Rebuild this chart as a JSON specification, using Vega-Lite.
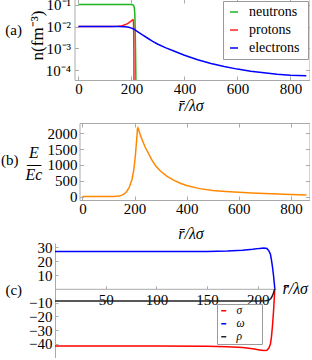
{
  "$schema": "https://vega.github.io/schema/vega-lite/v6.json",
  "padding": {"left": 1, "top": -3, "right": 0, "bottom": 0},
  "background": "white",
  "config": {
    "font": "Liberation Serif",
    "axis": {"labelFont": "Liberation Serif", "labelFontSize": 15, "labelColor": "black", "labelOverlap": false, "titleFont": "Liberation Serif", "titleFontWeight": "normal", "titleColor": "black", "grid": false, "domainColor": "#aaaaaa", "tickColor": "#aaaaaa"},
    "legend": {"labelFont": "Liberation Serif", "titleFont": "Liberation Serif", "labelColor": "black"},
    "title": {"font": "Liberation Serif", "fontSize": 15, "fontWeight": "normal", "color": "black"}
  },
  "bounds": "flush",
  "spacing": 43,
  "resolve": {"scale": {"x": "independent", "y": "independent", "color": "independent"}, "legend": {"color": "independent"}},
  "vconcat": [
    {
      "width": 254.5, "height": 81,
      "view": {"stroke": null},
      "title": {"text": "(a)", "orient": "left", "angle": 0, "anchor": "middle", "frame": "group", "align": "left", "baseline": "middle", "offset": 6.5, "dy": -9.5, "fontSize": 15},
      "data": {"values": [
        {"s": "neutrons", "r": 0, "n": 0.105}, {"s": "neutrons", "r": 150, "n": 0.105}, {"s": "neutrons", "r": 200, "n": 0.104}, {"s": "neutrons", "r": 206, "n": 0.1}, {"s": "neutrons", "r": 209, "n": 0.09}, {"s": "neutrons", "r": 211, "n": 0.07}, {"s": "neutrons", "r": 212.5, "n": 0.04}, {"s": "neutrons", "r": 213.5, "n": 0.015}, {"s": "neutrons", "r": 214.5, "n": 0.004}, {"s": "neutrons", "r": 215.5, "n": 0.0006}, {"s": "neutrons", "r": 216.5, "n": 0.00005}, {"s": "neutrons", "r": 217.5, "n": 0.000001},
        {"s": "protons", "r": 0, "n": 0.0102}, {"s": "protons", "r": 120, "n": 0.0102}, {"s": "protons", "r": 150, "n": 0.0104}, {"s": "protons", "r": 165, "n": 0.011}, {"s": "protons", "r": 178, "n": 0.0125}, {"s": "protons", "r": 188, "n": 0.0145}, {"s": "protons", "r": 196, "n": 0.0172}, {"s": "protons", "r": 202, "n": 0.0198}, {"s": "protons", "r": 205, "n": 0.021}, {"s": "protons", "r": 207, "n": 0.02}, {"s": "protons", "r": 208, "n": 0.012}, {"s": "protons", "r": 208.8, "n": 0.003}, {"s": "protons", "r": 209.3, "n": 0.0004}, {"s": "protons", "r": 209.8, "n": 0.000001},
        {"s": "electrons", "r": 0, "n": 0.0102}, {"s": "electrons", "r": 100, "n": 0.0102}, {"s": "electrons", "r": 150, "n": 0.0101}, {"s": "electrons", "r": 175, "n": 0.0098}, {"s": "electrons", "r": 190, "n": 0.0093}, {"s": "electrons", "r": 200, "n": 0.0086}, {"s": "electrons", "r": 210, "n": 0.0076}, {"s": "electrons", "r": 220, "n": 0.0063}, {"s": "electrons", "r": 240, "n": 0.0043}, {"s": "electrons", "r": 260, "n": 0.003}, {"s": "electrons", "r": 280, "n": 0.0021}, {"s": "electrons", "r": 300, "n": 0.00155}, {"s": "electrons", "r": 330, "n": 0.00105}, {"s": "electrons", "r": 360, "n": 0.00075}, {"s": "electrons", "r": 400, "n": 0.00048}, {"s": "electrons", "r": 450, "n": 0.0003}, {"s": "electrons", "r": 500, "n": 0.0002}, {"s": "electrons", "r": 550, "n": 0.000145}, {"s": "electrons", "r": 600, "n": 0.00011}, {"s": "electrons", "r": 650, "n": 0.000088}, {"s": "electrons", "r": 700, "n": 0.000074}, {"s": "electrons", "r": 750, "n": 0.000064}, {"s": "electrons", "r": 800, "n": 0.000058}, {"s": "electrons", "r": 860, "n": 0.0000548}
      ]},
      "resolve": {"axis": {"x": "independent", "y": "independent"}},
      "layer": [
        {
          "mark": {"type": "line", "clip": true, "strokeWidth": 1.5},
          "encoding": {
            "x": {"field": "r", "type": "quantitative", "scale": {"domain": [-15, 872], "range": [19.5, 254.5], "nice": false, "zero": false}, "axis": {"values": [0, 200, 400, 600, 800], "format": "d", "title": "r̄/λσ", "titleFontSize": 16, "titleFontStyle": "italic", "titleX": 135.5, "titleY": 25, "titleBaseline": "middle", "tickSize": -4, "labelPadding": 5}},
            "y": {"field": "n", "type": "quantitative", "scale": {"type": "log", "domain": [0.0000346, 0.189], "nice": false}, "axis": {"offset": -19.5, "values": [0.1, 0.01, 0.001, 0.0001], "labelExpr": "datum.value > 0.05 ? '10⁻¹' : datum.value > 0.005 ? '10⁻²' : datum.value > 0.0005 ? '10⁻³' : '10⁻⁴'", "title": "n(fm⁻³)", "titleFontSize": 17, "titleX": -37, "titleY": 36, "titleAngle": 270, "titleBaseline": "middle", "titleAlign": "center", "tickSize": -4, "labelPadding": 8}},
            "color": {"field": "s", "type": "nominal", "sort": null, "scale": {"domain": ["neutrons", "protons", "electrons"], "range": ["#1cb51c", "#ff2020", "#0000ff"]}, "legend": {"title": " ", "titleOrient": "right", "titlePadding": 4, "titleFontSize": 14, "orient": "top-right", "offset": 2, "symbolType": "stroke", "symbolSize": 64, "symbolStrokeWidth": 1.5, "labelFontSize": 14, "labelOffset": 8, "padding": 4, "rowPadding": 4, "fillColor": "white", "strokeColor": "#999999"}}
          }
        },
        {
          "mark": {"type": "line", "strokeOpacity": 0},
          "encoding": {
            "x": {"field": "r", "type": "quantitative", "axis": {"orient": "top", "labels": false, "title": null, "values": [0, 200, 400, 600, 800], "tickSize": -4}},
            "y": {"field": "n", "type": "quantitative", "axis": {"orient": "right", "labels": false, "title": null, "values": [0.1, 0.01, 0.001, 0.0001], "tickSize": -4}},
            "detail": {"field": "s"}
          }
        }
      ]
    },
    {
      "width": 254.5, "height": 77,
      "view": {"stroke": null},
      "title": {"text": "(b)", "orient": "left", "angle": 0, "anchor": "middle", "frame": "group", "align": "left", "baseline": "middle", "offset": 6.5, "dy": -1.5, "fontSize": 15},
      "data": {"values": [
        {"r": 0, "E": 0}, {"r": 100, "E": 0.5}, {"r": 120, "E": 3}, {"r": 140, "E": 15}, {"r": 150, "E": 35}, {"r": 160, "E": 80}, {"r": 170, "E": 160}, {"r": 180, "E": 300}, {"r": 190, "E": 540}, {"r": 197, "E": 850}, {"r": 203, "E": 1300}, {"r": 208, "E": 1800}, {"r": 211, "E": 2150}, {"r": 213, "E": 2180}, {"r": 216, "E": 2100}, {"r": 222, "E": 1950}, {"r": 230, "E": 1780}, {"r": 240, "E": 1580}, {"r": 250, "E": 1420}, {"r": 265, "E": 1180}, {"r": 280, "E": 980}, {"r": 300, "E": 800}, {"r": 325, "E": 640}, {"r": 350, "E": 520}, {"r": 375, "E": 420}, {"r": 400, "E": 350}, {"r": 450, "E": 250}, {"r": 500, "E": 190}, {"r": 550, "E": 160}, {"r": 600, "E": 137}, {"r": 650, "E": 115}, {"r": 700, "E": 95}, {"r": 750, "E": 78}, {"r": 800, "E": 63}, {"r": 860, "E": 45}
      ]},
      "resolve": {"axis": {"x": "independent", "y": "independent"}},
      "layer": [
        {
          "mark": {"type": "line", "color": "#ff8800", "strokeWidth": 1.5},
          "encoding": {
            "x": {"field": "r", "type": "quantitative", "scale": {"domain": [-11.5, 871.5], "range": [24.5, 254.5], "nice": false, "zero": false}, "axis": {"values": [0, 200, 400, 600, 800], "format": "d", "title": "r̄/λσ", "titleFontSize": 16, "titleFontStyle": "italic", "titleX": 135.5, "titleY": 33, "titleBaseline": "middle", "tickSize": -4, "labelPadding": 5}},
            "y": {"field": "E", "type": "quantitative", "scale": {"domain": [-111, 2333], "nice": false, "zero": false}, "axis": {"offset": -24.5, "values": [0, 500, 1000, 1500, 2000], "format": "d", "title": ["E", "—", "Ec"], "titleFontSize": 16, "titleFontStyle": "italic", "titleLineHeight": 11, "titleAngle": 0, "titleX": -46, "titleY": 29, "titleBaseline": "middle", "titleAlign": "center", "tickSize": -4, "labelPadding": 6.5}}
          }
        },
        {
          "mark": {"type": "line", "strokeOpacity": 0},
          "encoding": {
            "x": {"field": "r", "type": "quantitative", "axis": {"orient": "top", "labels": false, "title": null, "values": [0, 200, 400, 600, 800], "tickSize": -4}},
            "y": {"field": "E", "type": "quantitative", "axis": {"orient": "right", "labels": false, "title": null, "values": [0, 500, 1000, 1500, 2000], "tickSize": -4}}
          }
        }
      ]
    },
    {
      "width": 221, "height": 114.5,
      "view": {"stroke": null},
      "title": {"text": "(c)", "orient": "left", "angle": 0, "anchor": "middle", "frame": "group", "align": "left", "baseline": "middle", "offset": 6.5, "dy": -10.5, "fontSize": 15},
      "data": {"values": [
        {"s": "σ", "r": 0, "v": -41.5}, {"s": "σ", "r": 100, "v": -41.5}, {"s": "σ", "r": 150, "v": -41.6}, {"s": "σ", "r": 170, "v": -42}, {"s": "σ", "r": 185, "v": -42.6}, {"s": "σ", "r": 195, "v": -43.4}, {"s": "σ", "r": 202, "v": -44.3}, {"s": "σ", "r": 206, "v": -44.8}, {"s": "σ", "r": 209, "v": -44.5}, {"s": "σ", "r": 211, "v": -43}, {"s": "σ", "r": 212.5, "v": -40}, {"s": "σ", "r": 213.5, "v": -35}, {"s": "σ", "r": 214.5, "v": -27}, {"s": "σ", "r": 215.5, "v": -17}, {"s": "σ", "r": 216.3, "v": -7}, {"s": "σ", "r": 216.8, "v": 0},
        {"s": "ω", "r": 0, "v": 27}, {"s": "ω", "r": 100, "v": 27}, {"s": "ω", "r": 150, "v": 27.1}, {"s": "ω", "r": 170, "v": 27.4}, {"s": "ω", "r": 185, "v": 28}, {"s": "ω", "r": 195, "v": 28.6}, {"s": "ω", "r": 202, "v": 29.3}, {"s": "ω", "r": 206, "v": 29.6}, {"s": "ω", "r": 209, "v": 29.2}, {"s": "ω", "r": 211, "v": 27.5}, {"s": "ω", "r": 212.5, "v": 25}, {"s": "ω", "r": 213.5, "v": 21}, {"s": "ω", "r": 214.5, "v": 16}, {"s": "ω", "r": 215.5, "v": 10}, {"s": "ω", "r": 216.3, "v": 4}, {"s": "ω", "r": 216.8, "v": 0},
        {"s": "ρ", "r": 0, "v": -8.8}, {"s": "ρ", "r": 200, "v": -8.8}, {"s": "ρ", "r": 208, "v": -8.7}, {"s": "ρ", "r": 211, "v": -8.2}, {"s": "ρ", "r": 213, "v": -7}, {"s": "ρ", "r": 214.5, "v": -5}, {"s": "ρ", "r": 215.5, "v": -3}, {"s": "ρ", "r": 216.3, "v": -1}, {"s": "ρ", "r": 216.8, "v": 0}
      ]},
      "mark": {"type": "line", "strokeWidth": 1.5},
      "encoding": {
        "x": {"field": "r", "type": "quantitative", "scale": {"domain": [0, 218], "nice": false, "zero": false}, "axis": {"values": [50, 100, 150, 200], "format": "d", "offset": -68.7, "tickSize": -3, "labelPadding": 7, "title": "r̄/λσ", "titleFontSize": 16, "titleFontStyle": "italic", "titleX": 227, "titleY": 0, "titleAlign": "left", "titleBaseline": "middle", "titleAngle": 0}},
        "y": {"field": "v", "type": "quantitative", "scale": {"domain": [-49.8, 33.2], "nice": false, "zero": false}, "axis": {"values": [-40, -30, -20, -10, 10, 20, 30], "format": "d", "tickSize": -3, "labelPadding": 6, "title": null}},
        "color": {"field": "s", "type": "nominal", "sort": null, "scale": {"domain": ["σ", "ω", "ρ"], "range": ["#ff0000", "#0000ff", "#222222"]}, "legend": {"title": " ", "titleOrient": "right", "titlePadding": 16, "titleFontSize": 11.5, "orient": "bottom-right", "offset": 14, "symbolType": "stroke", "symbolSize": 25, "symbolStrokeWidth": 1.5, "labelFontSize": 11.5, "labelFontStyle": "italic", "labelOffset": 7, "padding": 1, "rowPadding": 0, "fillColor": "white", "strokeColor": "#999999"}}
      }
    }
  ]
}
